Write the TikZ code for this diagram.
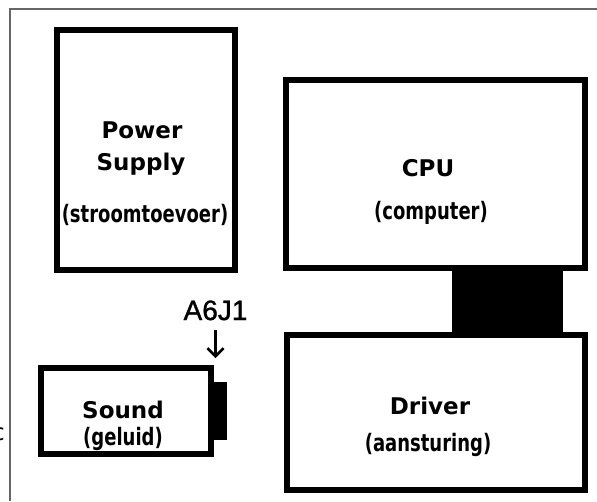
\documentclass[tikz,border=0pt]{standalone}
\usepackage{fontspec}
\usetikzlibrary{arrows.meta}
\newfontfamily\boxfont{DejaVu Sans}
\newfontfamily\narrowfont{DejaVu Sans}[FakeStretch=0.75]
\newfontfamily\pinfont{Liberation Sans}[FakeBold=1.2]

\begin{document}
\begin{tikzpicture}[x=1pt,y=-1pt,
    cardbox/.style={draw,line width=6pt,inner sep=0pt},
    boxtitle/.style={font=\boxfont\bfseries\fontsize{23}{28}\selectfont,anchor=base,inner sep=0pt},
    boxsub/.style={font=\narrowfont\bfseries\fontsize{24}{28}\selectfont,anchor=base,inner sep=0pt},
    plug/.style={fill,inner sep=0pt}]
        \useasboundingbox (0,0) rectangle (597,501);
        % cabinet edge
        \draw[black!60,line width=2pt] (10,501) -- (10,9) -- (597,9);
        \begin{scope}
            \clip (0,0) rectangle (597,501);
            \node[font=\boxfont\fontsize{23}{28}\selectfont,anchor=base east,inner sep=0pt] (cut) at (5,440) {c};
        \end{scope}
        \draw
            (146,150) node[cardbox,minimum width=178pt,minimum height=240pt] (psu){}
            (435.5,174) node[cardbox,minimum width=299pt,minimum height=188pt] (cpu){}
            (436,412.5) node[cardbox,minimum width=298pt,minimum height=155pt] (driver){}
            (126,411) node[cardbox,minimum width=170pt,minimum height=86pt] (sound){};
        % cable and plug
        \node[plug,minimum width=111pt,minimum height=61pt] (bus) at (507.5,301.5) {};
        \node[plug,minimum width=14pt,minimum height=58pt] (jack) at (220,411) {};
        % labels
        \node[boxtitle] (psu1) at (142,138) {Power};
        \node[boxtitle] (psu2) at (141,170) {Supply};
        \node[boxsub] (psu3) at (145,222) {(stroomtoevoer)};
        \node[boxtitle] (cpu1) at (428,176) {CPU};
        \node[boxsub] (cpu2) at (431,219) {(computer)};
        \node[boxtitle] (drv1) at (430,414) {Driver};
        \node[boxsub] (drv2) at (428,451) {(aansturing)};
        \node[boxtitle] (snd1) at (123,418) {Sound};
        \node[boxsub] (snd2) at (123,445) {(geluid)};
        % connector name
        \node[font=\pinfont\fontsize{28}{32}\selectfont,anchor=base,inner sep=0pt] (pin) at (215.5,320) {A6J1};
        \coordinate (pinend) at (215.5,358);
        \draw[line width=2.6pt,-{Straight Barb[length=8pt,width=16pt]}] ([yshift=-10pt]pin.south) -- (pinend);
\end{tikzpicture}
\end{document}
